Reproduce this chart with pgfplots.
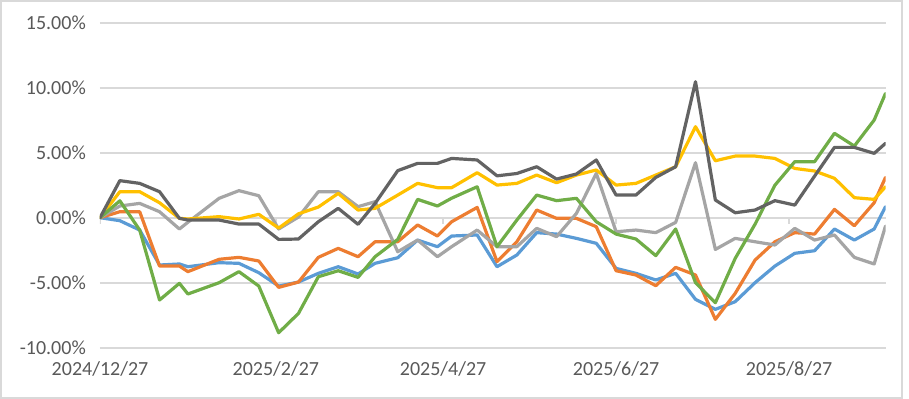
\documentclass[border=0pt]{standalone}
\usepackage{fontspec}
\setmainfont{Carlito}
\usepackage{pgfplots}
\usepackage{pgfplotstable}
\pgfplotsset{compat=1.18}
\definecolor{cblue}{HTML}{5B9BD5}
\definecolor{corange}{HTML}{ED7D31}
\definecolor{clgray}{HTML}{A5A5A5}
\definecolor{cyellow}{HTML}{FFC000}
\definecolor{cgreen}{HTML}{70AD47}
\definecolor{cdgray}{HTML}{636363}
\definecolor{cgrid}{HTML}{D9D9D9}
\definecolor{ctext}{HTML}{595959}
\pgfplotstableread{
d blue orange lgray yellow green dgray
0 0 0 0 0 0 0
7 -0.23 0.46 0.90 2.00 1.30 2.85
14 -0.95 0.46 1.10 2.00 -0.95 2.64
21 -3.64 -3.72 0.46 1.15 -6.33 2.00
28 -3.56 -3.72 -0.87 -0.05 -5.05 -0.05
31 -3.77 -4.15 -0.35 -0.10 -5.87 -0.18
42 -3.46 -3.20 1.49 0.08 -5.00 -0.18
49 -3.51 -3.05 2.08 -0.10 -4.15 -0.49
56 -4.23 -3.33 1.69 0.26 -5.26 -0.49
63 -5.26 -5.36 -0.87 -0.80 -8.85 -1.67
70 -4.95 -4.95 0.05 0.30 -7.36 -1.64
77 -4.28 -3.05 2.00 0.82 -4.54 -0.31
84 -3.77 -2.36 2.00 1.87 -4.08 0.72
91 -4.33 -3.00 0.85 0.59 -4.59 -0.51
97 -3.51 -1.85 1.23 0.72 -3.00 1.10
105 -3.08 -1.85 -2.62 1.74 -1.67 3.62
112 -1.72 -0.56 -1.72 2.64 1.41 4.18
119 -2.23 -1.41 -3.00 2.31 0.90 4.18
124 -1.41 -0.31 -2.23 2.31 1.50 4.56
133 -1.33 0.79 -0.95 3.46 2.38 4.44
140 -3.77 -3.38 -2.23 2.51 -2.23 3.22
147 -2.87 -1.85 -2.23 2.64 -0.18 3.40
154 -1.15 0.59 -0.82 3.28 1.74 3.92
161 -1.26 -0.05 -1.46 2.69 1.31 2.97
168 -1.59 -0.05 0.33 3.28 1.49 3.36
175 -1.97 -0.69 3.41 3.67 -0.31 4.44
182 -3.90 -4.08 -1.08 2.51 -1.26 1.74
189 -4.28 -4.41 -0.95 2.64 -1.64 1.74
196 -4.79 -5.23 -1.15 3.28 -2.92 3.10
203 -4.28 -3.82 -0.36 3.92 -0.87 3.92
210 -6.28 -4.41 4.23 7.00 -5.00 10.46
217 -7.05 -7.82 -2.44 4.38 -6.54 1.36
224 -6.46 -5.82 -1.59 4.74 -3.13 0.38
231 -5.00 -3.26 -1.85 4.74 -0.50 0.59
238 -3.72 -1.85 -2.10 4.56 2.50 1.31
245 -2.74 -1.15 -0.82 3.79 4.31 0.97
252 -2.54 -1.26 -1.72 3.59 4.31 3.20
259 -0.87 0.64 -1.33 3.03 6.49 5.41
266 -1.72 -0.62 -3.05 1.54 5.51 5.41
273 -0.87 1.15 -3.56 1.41 7.51 4.95
277 0.85 3.10 -0.64 2.38 9.56 5.72
}\data
\begin{document}
\begin{tikzpicture}
\begin{axis}[
  scale only axis, width=785.5bp, height=325bp,
  xmin=0, xmax=277, ymin=-10, ymax=15,
  axis line style={draw=none},
  xtick={0,62,121,182,243},
  xticklabels={2024/12/27,2025/2/27,2025/4/27,2025/6/27,2025/8/27},
  ytick={-10,-5,0,5,10,15},
  yticklabels={-10.00\%,-5.00\%,0.00\%,5.00\%,10.00\%,15.00\%},
  xmajorgrids=false, ymajorgrids=true,
  y grid style={draw=cgrid, line width=2bp},
  major tick style={draw=none},
  major tick length=0pt,
  tick label style={font=\fontsize{20bp}{24bp}\selectfont, text=ctext, inner sep=0pt},
  x tick label style={anchor=north, yshift=-14bp},
  y tick label style={anchor=east, xshift=-14bp},
  every axis plot/.append style={line width=3.2bp, line join=round, line cap=round, no markers},
]
\draw[cgrid, line width=2bp] (axis cs:0,0) -- (axis cs:0,-0.46);
\draw[cgrid, line width=2bp] (axis cs:62,0) -- (axis cs:62,-0.46);
\draw[cgrid, line width=2bp] (axis cs:121,0) -- (axis cs:121,-0.46);
\draw[cgrid, line width=2bp] (axis cs:182,0) -- (axis cs:182,-0.46);
\draw[cgrid, line width=2bp] (axis cs:243,0) -- (axis cs:243,-0.46);
\addplot[cblue] table[x=d, y=blue] {\data};
\addplot[corange] table[x=d, y=orange] {\data};
\addplot[clgray] table[x=d, y=lgray] {\data};
\addplot[cyellow] table[x=d, y=yellow] {\data};
\addplot[cgreen] table[x=d, y=green] {\data};
\addplot[cdgray] table[x=d, y=dgray] {\data};
\coordinate (SW) at (rel axis cs:0,0);
\end{axis}
\draw[cgrid, line width=2.5bp] ([shift={(-98.75bp,-50.05bp)}]SW) rectangle ([shift={(801.75bp,346.45bp)}]SW);
\path ([shift={(-100bp,-51.3bp)}]SW) rectangle ([shift={(809bp,347.7bp)}]SW);
\end{tikzpicture}
\end{document}
